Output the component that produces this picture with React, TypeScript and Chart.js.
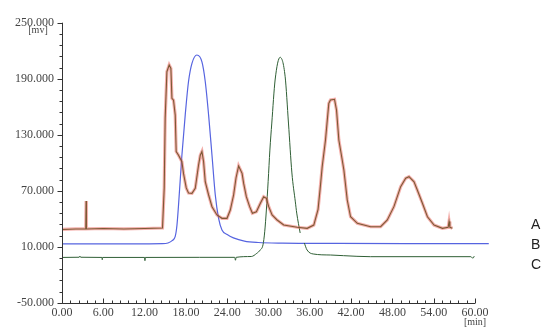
import { useEffect, useRef } from "react";
import { Chart, registerables } from "chart.js";
Chart.register(...registerables);

const seriesNames = ["A", "B", "C"];
const yTicks = [-50, 10, 70, 130, 190, 250];
const xTicks = [0, 6, 12, 18, 24, 30, 36, 42, 48, 54, 60];
const yMinorStep = 12;
const xMinorStep = 1.2;

const aTime = [0, 2, 3.45, 3.5, 3.55, 6, 9, 12, 14.6, 14.85, 14.99, 15.24, 15.57, 15.82, 15.97, 16.2, 16.45, 16.59, 16.93, 17.42, 17.65, 18.05, 18.38, 18.88, 19.36, 19.84, 20.09, 20.33, 20.57, 20.81, 21.3, 21.79, 22.51, 23.24, 23.97, 24.45, 24.93, 25.28, 25.66, 26.16, 26.39, 26.78, 27.26, 27.66, 28.24, 28.82, 29.3, 29.69, 30.03, 30.52, 31.25, 32.21, 34.16, 35.62, 36.58, 37.2, 37.5, 37.8, 38.28, 38.76, 39.0, 39.59, 39.88, 40.22, 40.71, 40.95, 41.44, 41.92, 42.9, 44.83, 46.29, 47.26, 48.22, 49.2, 49.93, 50.41, 51.14, 51.62, 52.36, 53.09, 54.05, 55.27, 56.1, 56.23, 56.35, 56.72];
const aValue = [28.5, 29, 29, 59, 29, 29.5, 29, 29.5, 30, 73, 148, 197.5, 204.7, 201, 169, 167, 151, 112, 108, 101, 88.6, 73, 67.5, 67.2, 72.6, 97.5, 108, 112, 101, 79.6, 65.4, 52.9, 44, 40.4, 40.4, 49.3, 65.4, 83.6, 96.5, 88.6, 77.9, 63.6, 52.9, 45.8, 47.5, 56.5, 63.6, 61.9, 52.9, 44, 38.6, 33.2, 30.8, 29.7, 33.2, 50, 72, 95.7, 124.3, 163.6, 167.2, 167.9, 156.5, 124.3, 102.9, 92.2, 60, 42.1, 35.1, 31.4, 31.4, 38.6, 52.9, 74.3, 83.3, 85, 79.6, 70.7, 56.5, 42.1, 33.2, 29.7, 30.8, 37, 30.8, 29.7];

const bTime = [0, 10, 14.6, 15.4, 16.0, 16.45, 16.7, 16.93, 17.42, 17.9, 18.38, 18.88, 19.6, 20.33, 20.81, 21.3, 21.79, 22.27, 22.75, 23.24, 24.0, 24.9, 26.5, 28.5, 32, 40, 50, 62];
const bValue = [13, 13, 13.2, 14, 16.5, 21, 33, 54.7, 108, 151, 187, 206.5, 215.4, 208, 187, 151, 108, 65.4, 40.4, 28, 23, 19.5, 16, 14.5, 13.8, 13.5, 13.3, 13.2];

const cTime = [0, 2.5, 2.6, 2.7, 5.8, 5.85, 5.9, 12.0, 12.05, 12.1, 20, 25.1, 25.2, 25.3, 27.5, 28.3, 28.8, 29.2, 29.45, 29.69, 29.95, 30.2, 30.48, 30.96, 31.69, 32.42, 32.9, 33.4, 33.9, 34.1, 34.6, 34.9, 35.2, 35.6, 36.5, 39, 40.9, 44.8, 59.4, 59.7, 59.9];
const cValue = [-1.5, -1.3, 0, -1.3, -1.5, -4, -1.5, -1.5, -5, -1.5, -1.4, -1.4, -4.5, -1.4, -0.5, 2.9, 6.5, 12, 26, 49.3, 80, 113.5, 142.5, 188.6, 212.9, 192.1, 142.5, 89, 58, 46, 24.7, null, 14, 6.5, 2.2, 1.1, 0.4, -0.7, -0.7, -2.4, 0];

const toPts = (t: number[], v: (number | null)[]) => t.map((x, i) => ({ x, y: v[i] }));

const decor = {
  id: "decor",
  afterDraw(chart: any) {
    const { ctx, scales } = chart;
    const x = scales.x;
    const y = scales.y;
    ctx.save();
    ctx.strokeStyle = "#333";
    ctx.lineWidth = 1;
    ctx.beginPath();
    const ax = Math.round(x.left) + 0.5;
    const ay = Math.round(y.bottom) + 0.5;
    ctx.moveTo(ax, y.top);
    ctx.lineTo(ax, ay);
    ctx.lineTo(x.right, ay);
    for (let v = y.min, i = 0; v <= y.max + 1e-6; v += yMinorStep, i++) {
      const py = Math.round(y.getPixelForValue(v)) + 0.5;
      const len = i % 5 === 0 ? 5 : 3;
      ctx.moveTo(ax - len, py);
      ctx.lineTo(ax, py);
    }
    for (let v = x.min, i = 0; v <= x.max + 1e-6; v += xMinorStep, i++) {
      const px = Math.round(x.getPixelForValue(v)) + 0.5;
      const len = i % 5 === 0 ? 5 : 3;
      ctx.moveTo(px, ay);
      ctx.lineTo(px, ay - len);
    }
    ctx.stroke();
    ctx.fillStyle = "#444";
    ctx.font = "10px 'Liberation Serif'";
    ctx.textAlign = "center";
    ctx.textBaseline = "middle";
    ctx.fillText("[mv]", 38, 30);
    ctx.fillText("[min]", x.right, 322);
    ctx.fillStyle = "#222";
    ctx.font = "14px 'Liberation Sans'";
    ctx.textAlign = "left";
    const ly = [225, 245, 265];
    seriesNames.forEach((n, i) => ctx.fillText(n, 531, ly[i]));
    ctx.restore();
  },
};

export default function App() {
  const ref = useRef<HTMLCanvasElement | null>(null);
  useEffect(() => {
    if (!ref.current) return;
    const aPts = toPts(aTime, aValue);
    const chart = new Chart(ref.current, {
      type: "line",
      data: {
        datasets: [
          { label: seriesNames[0], data: aPts, borderColor: "#7d5a35", borderWidth: 1.1, order: 0 },
          { label: seriesNames[0] + " halo", data: aPts, borderColor: "rgba(230,80,70,0.45)", borderWidth: 3.2, order: 1 },
          { label: seriesNames[1], data: toPts(bTime, bValue), borderColor: "#5664e0", borderWidth: 1.2, order: 3, clip: false, cubicInterpolationMode: "monotone" },
          { label: seriesNames[2], data: toPts(cTime, cValue), borderColor: "#2f5f35", borderWidth: 1, order: 2, cubicInterpolationMode: "monotone" },
        ] as any,
      },
      options: {
        animation: false,
        responsive: false,
        maintainAspectRatio: false,
        layout: { padding: { left: 0, right: 75, top: 22.7, bottom: 0 } },
        plugins: { legend: { display: false }, tooltip: { enabled: false } },
        elements: { point: { radius: 0 }, line: { tension: 0 } },
        scales: {
          x: {
            type: "linear",
            min: 0,
            max: 60,
            afterBuildTicks: (s: any) => {
              s.ticks = xTicks.map((v) => ({ value: v }));
            },
            afterFit: (s: any) => {
              s.height = 334 - 302.7;
            },
            grid: { display: false, tickLength: 0 },
            border: { display: false },
            ticks: {
              padding: 3,
              color: "#444",
              autoSkip: false,
              maxRotation: 0,
              font: { family: "'Liberation Serif'", size: 12 },
              callback: (v: any) => Number(v).toFixed(2),
            },
          },
          y: {
            type: "linear",
            min: -50,
            max: 250,
            afterBuildTicks: (s: any) => {
              s.ticks = yTicks.map((v) => ({ value: v }));
            },
            afterFit: (s: any) => {
              s.width = 62;
            },
            grid: { display: false, tickLength: 0 },
            border: { display: false },
            ticks: {
              padding: 8,
              color: "#444",
              autoSkip: false,
              font: { family: "'Liberation Serif'", size: 12 },
              callback: (v: any) => Number(v).toFixed(3),
            },
          },
        },
      } as any,
      plugins: [decor],
    });
    return () => chart.destroy();
  }, []);
  return (
    <div style={{ position: "absolute", left: 0, top: 0, width: 550, height: 334, background: "#fff" }}>
      <canvas ref={ref} width={550} height={334} style={{ display: "block" }} />
    </div>
  );
}
